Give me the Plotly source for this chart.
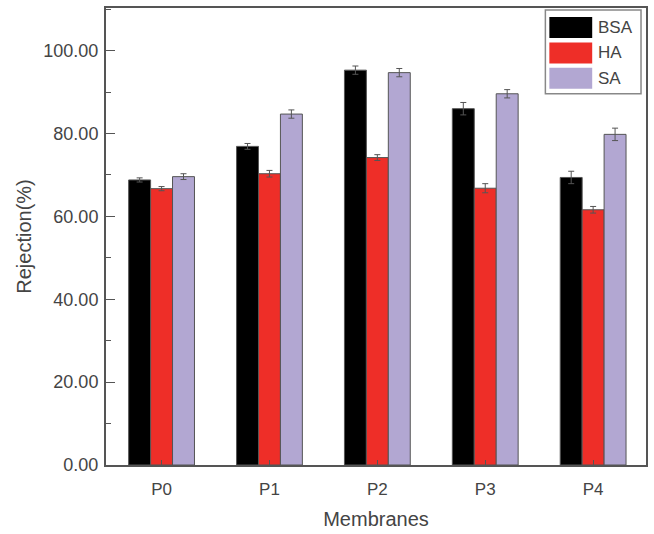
import plotly.graph_objects as go

# Rejection of three foulants by five membranes
membranes = ["P0", "P1", "P2", "P3", "P4"]
series_names = ["BSA", "HA", "SA"]
bsa = [68.8, 76.9, 95.3, 86.0, 69.4]
ha = [66.7, 70.3, 74.2, 66.8, 61.6]
sa = [69.6, 84.7, 94.7, 89.6, 79.8]
bsa_err = [0.5, 0.7, 1.0, 1.5, 1.5]
ha_err = [0.5, 0.8, 0.7, 1.1, 0.8]
sa_err = [0.7, 1.0, 1.0, 1.0, 1.5]
y_ticks = [0, 20, 40, 60, 80, 100]
y_tick_labels = ["0.00", "20.00", "40.00", "60.00", "80.00", "100.00"]

colors = ["#000000", "#ee2e28", "#b2a7d2"]
values = [bsa, ha, sa]
errors = [bsa_err, ha_err, sa_err]

W, H = 654, 534
L, R, T, B = 106, 6, 7, 69
FONT = "Liberation Sans, Arial, sans-serif"
AXIS_COLOR = "#555555"
TEXT_COLOR = "#444444"

fig = go.Figure()
for name, vals, errs, col in zip(series_names, values, errors, colors):
    fig.add_trace(go.Bar(
        x=membranes, y=vals, name=name,
        marker=dict(color=col, line=dict(color="#555555", width=1)),
        error_y=dict(type="data", array=errs, visible=True,
                     color="#555555", thickness=1, width=3),
        showlegend=False,
    ))

fig.update_layout(
    width=W, height=H,
    margin=dict(l=L, r=R, t=T, b=B),
    paper_bgcolor="white", plot_bgcolor="white",
    barmode="group", bargap=0.39, bargroupgap=0,
    font=dict(family=FONT, color=TEXT_COLOR, size=17),
)

fig.update_xaxes(
    range=[-0.515, 4.49],
    showline=True, linecolor=AXIS_COLOR, linewidth=2, mirror=True,
    ticks="inside", ticklen=5, tickcolor=AXIS_COLOR,
    ticklabelstandoff=8,
    tickfont=dict(size=17, color=TEXT_COLOR),
    title=dict(text="Membranes", font=dict(size=20, color=TEXT_COLOR), standoff=14),
    showgrid=False, zeroline=False,
)
fig.update_yaxes(
    range=[0, 110.3],
    tickvals=y_ticks, ticktext=y_tick_labels,
    showline=True, linecolor=AXIS_COLOR, linewidth=2, mirror=True,
    ticks="inside", ticklen=9, tickcolor=AXIS_COLOR,
    minor=dict(ticks="inside", ticklen=5, dtick=10, tickcolor=AXIS_COLOR),
    ticklabelstandoff=2,
    tickfont=dict(size=18, color=TEXT_COLOR),
    title=dict(text="Rejection(%)", font=dict(size=20, color=TEXT_COLOR), standoff=6),
    showgrid=False, zeroline=False,
)

# Legend drawn as a boxed list of large swatches in the upper-right corner
pw, ph = W - L - R, H - T - B


def px_x(px):
    return (px - L) / pw


def px_y(py):
    return (H - B - py) / ph


fig.add_shape(type="rect", xref="paper", yref="paper",
              x0=px_x(547), x1=px_x(643), y0=px_y(93), y1=px_y(9),
              line=dict(color="#888888", width=1.5), fillcolor="white")
row_top = 16
row_h = 25.5
for i, (name, col) in enumerate(zip(series_names, colors)):
    y0 = row_top + i * row_h
    fig.add_shape(type="rect", xref="paper", yref="paper",
                  x0=px_x(551), x1=px_x(594), y0=px_y(y0 + 21), y1=px_y(y0),
                  line=dict(width=0), fillcolor=col)
    fig.add_annotation(xref="paper", yref="paper", x=px_x(598), y=px_y(y0 + 10.5),
                       text=name, showarrow=False, xanchor="left", yanchor="middle",
                       font=dict(size=17, color=TEXT_COLOR, family=FONT))

fig.write_html("out.html")
